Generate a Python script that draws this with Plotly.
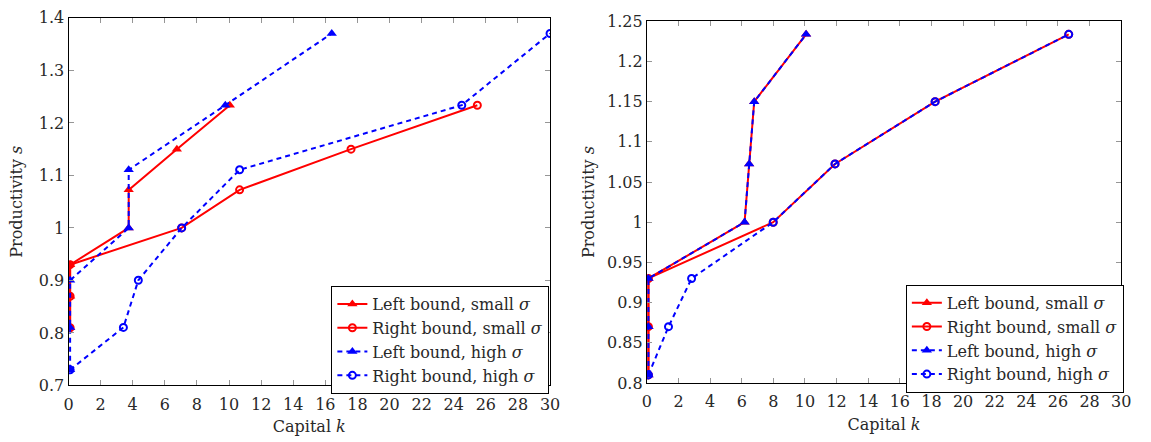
import plotly.graph_objects as go

# ---- data: left panel ----
k_left_small_L = [0.1, 0.1, 0.1, 3.75, 3.75, 6.75, 10.05]
s_left_small_L = [0.81, 0.87, 0.93, 1.0, 1.0725, 1.15, 1.2337]
k_left_small_R = [0.1, 0.1, 0.1, 7.05, 10.66, 17.6, 25.47]
s_left_small_R = [0.81, 0.87, 0.93, 1.0, 1.0725, 1.15, 1.2337]
k_left_high_L = [0.1, 0.1, 0.1, 3.75, 3.75, 9.77, 16.4]
s_left_high_L = [0.7298, 0.8106, 0.9003, 1.0, 1.1107, 1.2337, 1.3703]
k_left_high_R = [0.1, 3.42, 4.35, 7.05, 10.66, 24.5, 30.0]
s_left_high_R = [0.7298, 0.8106, 0.9003, 1.0, 1.1107, 1.2337, 1.3703]

# ---- data: right panel ----
k_right_small_L = [0.1, 0.1, 0.1, 6.18, 6.47, 6.79, 10.07]
s_right_small_L = [0.81, 0.87, 0.93, 1.0, 1.0725, 1.15, 1.2337]
k_right_small_R = [0.1, 0.1, 0.1, 7.99, 11.9, 18.23, 26.68]
s_right_small_R = [0.81, 0.87, 0.93, 1.0, 1.0725, 1.15, 1.2337]
k_right_high_L = [0.1, 0.1, 0.1, 6.18, 6.47, 6.79, 10.07]
s_right_high_L = [0.81, 0.87, 0.93, 1.0, 1.0725, 1.15, 1.2337]
k_right_high_R = [0.1, 1.37, 2.83, 7.99, 11.9, 18.23, 26.68]
s_right_high_R = [0.81, 0.87, 0.93, 1.0, 1.0725, 1.15, 1.2337]

series_names = [
    "Left bound, small <i>σ</i>",
    "Right bound, small <i>σ</i>",
    "Left bound, high <i>σ</i>",
    "Right bound, high <i>σ</i>",
]

x_ticks = list(range(0, 31, 2))
y_ticks_left = [0.7, 0.8, 0.9, 1.0, 1.1, 1.2, 1.3, 1.4]
y_tick_text_left = ["0.7", "0.8", "0.9", "1", "1.1", "1.2", "1.3", "1.4"]
y_ticks_right = [0.8, 0.85, 0.9, 0.95, 1.0, 1.05, 1.1, 1.15, 1.2, 1.25]
y_tick_text_right = ["0.8", "0.85", "0.9", "0.95", "1", "1.05", "1.1", "1.15", "1.2", "1.25"]

RED = "rgb(255,0,0)"
BLUE = "rgb(0,0,255)"
FONT = "DejaVu Serif"
TEXT = "rgb(40,40,40)"
FS = 16

styles = [
    dict(line=dict(color=RED, width=2), marker=dict(symbol="triangle-up", size=9, color=RED)),
    dict(line=dict(color=RED, width=2),
         marker=dict(symbol="circle-open", size=7, color=RED, line=dict(width=2, color=RED))),
    dict(line=dict(color=BLUE, width=2, dash="5px,4px"),
         marker=dict(symbol="triangle-up", size=9, color=BLUE)),
    dict(line=dict(color=BLUE, width=2, dash="5px,4px"),
         marker=dict(symbol="circle-open", size=7, color=BLUE, line=dict(width=2, color=BLUE))),
]

fig = go.Figure()

left_data = [
    (k_left_small_L, s_left_small_L),
    (k_left_small_R, s_left_small_R),
    (k_left_high_L, s_left_high_L),
    (k_left_high_R, s_left_high_R),
]
right_data = [
    (k_right_small_L, s_right_small_L),
    (k_right_small_R, s_right_small_R),
    (k_right_high_L, s_right_high_L),
    (k_right_high_R, s_right_high_R),
]

for (kx, sy), name, st in zip(left_data, series_names, styles):
    fig.add_trace(go.Scatter(x=kx, y=sy, mode="lines+markers", name=name,
                             xaxis="x", yaxis="y", legend="legend", **st))
for (kx, sy), name, st in zip(right_data, series_names, styles):
    fig.add_trace(go.Scatter(x=kx, y=sy, mode="lines+markers", name=name,
                             xaxis="x2", yaxis="y2", legend="legend2", **st))

axis_common = dict(
    showline=True, linecolor="black", linewidth=1, mirror="allticks",
    ticks="inside", ticklen=5, tickcolor="rgb(150,150,150)", tickwidth=1,
    showgrid=False, zeroline=False,
    tickfont=dict(family=FONT, size=FS, color=TEXT),
)
x_extra = dict(ticklabelstandoff=4)

title_font = dict(family=FONT, size=FS, color=TEXT)
legend_font = dict(family=FONT, size=FS, color=TEXT)

fig.update_layout(
    width=1151, height=442,
    margin=dict(l=0, r=0, t=0, b=0),
    paper_bgcolor="white", plot_bgcolor="white",
    font=dict(family=FONT, size=FS, color=TEXT),
    xaxis=dict(domain=[0.0559, 0.4798], range=[0, 30], tickvals=x_ticks,
               title=dict(text="Capital <i>k</i>", font=title_font, standoff=8),
               anchor="y", **axis_common, **x_extra),
    yaxis=dict(domain=[0.110, 0.979], range=[0.7, 1.4], tickvals=y_ticks_left,
               ticktext=y_tick_text_left,
               title=dict(text="Productivity <i>s</i>", font=title_font, standoff=12),
               anchor="x", **axis_common),
    xaxis2=dict(domain=[0.565, 0.9826], range=[0, 30], tickvals=x_ticks,
                title=dict(text="Capital <i>k</i>", font=title_font, standoff=8),
                anchor="y2", **axis_common, **x_extra),
    yaxis2=dict(domain=[0.116, 0.971], range=[0.8, 1.25], tickvals=y_ticks_right,
                ticktext=y_tick_text_right,
                title=dict(text="Productivity <i>s</i>", font=title_font, standoff=8),
                anchor="x2", **axis_common),
    legend=dict(x=0.2873, y=0.345, xanchor="left", yanchor="top",
                bordercolor="black", borderwidth=1, bgcolor="white",
                font=legend_font, tracegroupgap=0, itemwidth=30),
    legend2=dict(x=0.793, y=0.348, xanchor="left", yanchor="top",
                 bordercolor="black", borderwidth=1, bgcolor="white",
                 font=legend_font, tracegroupgap=0, itemwidth=30),
    showlegend=True,
)

fig.write_html("out.html")
